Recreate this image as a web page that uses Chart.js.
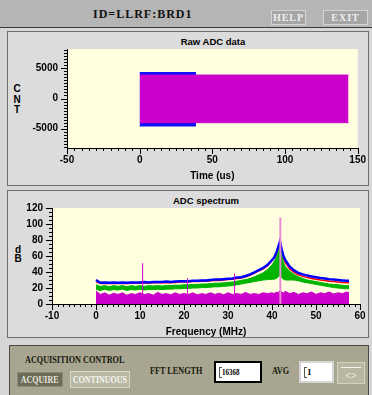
<!DOCTYPE html>
<html lang="en">
<head>
<meta charset="UTF-8">
<title>ID=LLRF:BRD1</title>
<script src="https://cdn.jsdelivr.net/npm/chart.js"></script>
<style>
  * { margin: 0; padding: 0; box-sizing: border-box; }
  body { width: 372px; height: 395px; overflow: hidden; position: relative; background: #d6d6d6; font-family: 'Liberation Sans', sans-serif; }
  .abs { position: absolute; }
  .ser { font-family: 'Liberation Serif', serif; font-weight: bold; white-space: nowrap; }
  .squeeze { display: inline-block; transform: scaleX(0.78); transform-origin: left center; }
  #topbar { left: 0; top: 0; width: 372px; height: 28px; background: #b5b5b5; border-bottom: 1px solid #3a3a3a; }
  #idtxt { left: 93px; top: 7px; font-size: 12px; letter-spacing: 1px; color: #111; }
  .tbtn { top: 10px; height: 15px; background: #a6a6a6; border: 1px solid #d4d4d4; color: #efefef; font-size: 10px; letter-spacing: 1px; display: flex; align-items: center; justify-content: center; }
  .panel { left: 7px; width: 362px; background: #dcdcdc; border: 1px solid #6e6e6e; }
  .ptitle { font-weight: bold; font-size: 9.5px; text-align: center; line-height: 12px; color: #000; }
  .vlab { font-weight: bold; font-size: 10px; text-align: center; color: #000; width: 10px; }
  canvas { position: absolute; left: 0; }
  #ctrl { left: 9px; top: 345px; width: 360px; height: 52px; background: #a8a690; border-top: 1px solid #4a4a40; border-left: 1px solid #4a4a40; border-right: 1px solid #4a4a40; }
  .ctxt { font-size: 10.5px; color: #16160e; }
  .cbtn { display: flex; align-items: center; justify-content: center; font-size: 10px; }
  .sq { display: inline-block; transform: scaleX(0.8); transform-origin: center; }
  .box { background: #fff; font-size: 9px; color: #000; }
  .cursor { position: absolute; left: 3px; top: 4px; width: 3px; height: 11px; border: 1px solid #555; border-right: none; }
</style>
</head>
<body>
  <div id="topbar" class="abs"></div>
  <div id="idtxt" class="abs ser">ID=LLRF:BRD1</div>
  <div class="abs tbtn ser" style="left:271px;width:35px;">HELP</div>
  <div class="abs tbtn ser" style="left:323px;width:45px;">EXIT</div>

  <div class="abs panel" style="top:31px;height:155px;"></div>
  <div class="abs panel" style="top:190px;height:148px;"></div>

  <div class="abs ptitle" style="left:67px;width:292px;top:36px;">Raw ADC data</div>
  <div class="abs ptitle" style="left:52px;width:308px;top:195px;">ADC spectrum</div>
  <div class="abs vlab" style="left:12px;top:84px;line-height:10.5px;">C<br>N<br>T</div>
  <div class="abs vlab" style="left:13px;top:245px;line-height:9px;">d<br>B</div>

  <canvas id="raw" width="372" height="155" style="top:31px"></canvas>
  <canvas id="spec" width="372" height="148" style="top:190px"></canvas>

  <div id="ctrl" class="abs"></div>
  <div class="abs ser ctxt" style="left:25px;top:354px;"><span class="squeeze">ACQUISITION CONTROL</span></div>
  <div class="abs ser cbtn" style="left:17px;top:372px;width:46px;height:15px;background:#6d6c5a;border:1px solid #8c8a76;color:#e6e6dc;"><span class="sq">ACQUIRE</span></div>
  <div class="abs ser cbtn" style="left:70px;top:371px;width:60px;height:17px;background:#bab8a3;border:1px solid #d8d6c4;color:#f6f6f2;"><span class="sq">CONTINUOUS</span></div>
  <div class="abs ser ctxt" style="left:150px;top:365px;"><span class="squeeze">FFT LENGTH</span></div>
  <div class="abs ser box" style="left:214px;top:361px;width:48px;height:22px;border:2px solid #000;">
    <div class="cursor"></div><div class="abs" style="left:6px;top:4px;"><span class="squeeze">16368</span></div>
  </div>
  <div class="abs ser ctxt" style="left:272px;top:365px;"><span class="squeeze">AVG</span></div>
  <div class="abs ser box" style="left:299px;top:361px;width:35px;height:22px;border:2px solid #d6d6d6;">
    <div class="cursor"></div><div class="abs" style="left:6px;top:4px;">1</div>
  </div>
  <div class="abs ser cbtn" style="left:337px;top:362px;width:28px;height:22px;background:#b9b7a2;border:1px solid #d4d2c0;color:#f4f4f0;padding-top:4px;">&lt;&gt;</div>
  <div class="abs" style="left:341px;top:367px;width:20px;height:1px;background:#f4f4f0;"></div>

<script>
// raw ADC trace envelopes (time in us, ADC counts)
const rawBlueTime = [0, 38.8];
const rawBlueHigh = [4300, 4300];
const rawBlueLow = [-4550, -4550];
const rawMagTime = [0, 143.7];
const rawMagHigh = [3880, 3880];
const rawMagLow = [-4000, -4000];
const rawXLabels = [-50, 0, 50, 100, 150];
const rawYLabels = [-5000, 0, 5000];

// spectrum traces (MHz, dB)
const freqMHz = [0, 1, 2, 3, 4, 5, 6, 7, 8, 9, 10, 11, 12, 13, 14, 15, 16, 17, 18, 19, 20,
  21, 22, 23, 24, 25, 26, 27, 28, 29, 30, 31, 32, 33, 34, 35, 36, 37, 38, 39, 40,
  40.5, 41, 41.4, 41.8, 42.2, 42.6, 43,
  44, 45, 46, 47, 48, 49, 50, 51, 52, 53, 54, 55, 56, 57, 57.5];
const blueDb = [30, 26.5, 27, 26.5, 27, 26.5, 27, 26.5, 27, 27, 27, 27.5, 27, 27.5, 27.5, 27.5, 28, 27.5, 28, 28.5, 28.5,
  28.5, 29, 29, 29.5, 29.5, 30, 30.5, 30.5, 31, 31.5, 32, 33, 33.5, 35, 37, 39.5, 42.5, 45, 49, 55,
  58, 64, 71, 78, 68, 60, 55,
  47, 42, 39, 37, 35.5, 34.5, 33.5, 32.5, 32, 31, 30.5, 30, 29.5, 29, 29];
const redDb = [28, 25.5, 26, 25.5, 26, 25.5, 26, 25.5, 26, 26, 26, 26.5, 26, 26.5, 26.5, 26.5, 27, 26.5, 27, 27.5, 27.5,
  27.5, 28, 28, 28.5, 28.5, 29, 29.5, 29.5, 30, 30.5, 31, 32, 32.5, 34, 36, 38.5, 41.5, 44, 48, 54,
  57, 62, 69, 75, 65, 57, 52,
  44, 39.5, 36.5, 34.5, 33, 32, 31, 30, 29.5, 28.5, 28, 27.5, 27, 26.5, 26.5];
const greenHiDb = [24, 22, 23, 21.5, 23, 22, 23, 21.5, 23, 22, 23, 22, 23, 22.5, 23, 22.5, 23, 23, 23.5, 23.5, 24,
  24, 24.5, 24.5, 25, 25, 25.5, 26, 26, 26.5, 27, 27.5, 28.5, 29.5, 30.5, 32, 34, 36.5, 39, 43, 49,
  53, 58, 64, 70, 60, 52, 47,
  41, 37, 34, 32, 30, 29, 28, 27, 26, 25, 24.5, 24, 23.5, 23, 23];
const greenLoDb = [18, 17, 18.5, 17, 18, 17.5, 18.5, 17, 18, 17.5, 18.5, 17.5, 18, 18, 18.5, 18, 18.5, 18.5, 19, 19, 19.5,
  19.5, 20, 20, 20.5, 20.5, 21, 21.5, 21.5, 22, 22.5, 23, 24, 25, 26, 27, 28, 29, 30, 30.5, 31,
  31, 32, 34, 36, 33, 31, 30,
  30, 30, 29, 27.5, 26.5, 25.5, 24.5, 23.5, 22.5, 21.5, 20.5, 20, 19.5, 19, 19];
const floorDb = [16, 12, 14, 11, 13.5, 12, 14, 11, 13, 12, 14, 12, 13, 11, 14.5, 12, 13, 11.5, 14, 12, 13,
  12, 14, 11.5, 13, 12, 14, 12, 13.5, 11.5, 14, 12, 13, 12, 14.5, 12, 13, 12, 14, 13, 14,
  13, 15, 14, 17, 15, 13.5, 16,
  13, 14.5, 12, 14, 13, 15, 12, 14, 13, 15, 12.5, 14, 13, 15, 14];
const spurFreq = [10.6, 20.8, 31.5];
const spurDb = [51, 32.5, 38];
const carrierFreq = 41.9;
const carrierDb = 108;
const specXLabels = [-10, 0, 10, 20, 30, 40, 50, 60];
const specYLabels = [0, 20, 40, 60, 80, 100, 120];

const pts = (xs, ys) => xs.map((x, i) => ({ x: x, y: ys[i] }));
const tickFont = { family: 'Liberation Sans', weight: 'bold', size: 10 };

const plotBg = {
  id: 'plotBg',
  beforeDraw(chart) {
    const a = chart.chartArea, ctx = chart.ctx;
    ctx.save();
    ctx.fillStyle = '#ffffe0';
    ctx.fillRect(a.left, a.top, a.right - a.left, a.bottom - a.top);
    ctx.restore();
  }
};

// outside tick marks, long ones where a label is shown
const tickMarks = {
  id: 'tickMarks',
  afterDraw(chart) {
    const ctx = chart.ctx, xs = chart.scales.x, ys = chart.scales.y;
    const a = chart.chartArea;
    ctx.save();
    ctx.strokeStyle = '#000';
    ctx.lineWidth = 1;
    ctx.beginPath();
    xs.ticks.forEach(t => {
      const p = Math.round(xs.getPixelForValue(t.value)) + 0.5;
      ctx.moveTo(p, a.bottom);
      ctx.lineTo(p, a.bottom + (t.label ? 6 : 3));
    });
    ys.ticks.forEach(t => {
      const p = Math.round(ys.getPixelForValue(t.value)) + 0.5;
      ctx.moveTo(a.left, p);
      ctx.lineTo(a.left - (t.label ? 6 : 3), p);
    });
    ctx.stroke();
    ctx.restore();
  }
};

function axis(min, max, step, labels, pad, size, title, titlePad) {
  const horizontal = !!title;
  return {
    type: 'linear', min: min, max: max,
    ticks: {
      autoSkip: false, maxRotation: 0,
      padding: pad, color: '#000', font: tickFont,
      callback: v => labels.includes(v) ? String(v) : ''
    },
    // minor ticks every step, inside [min, max]
    afterBuildTicks: s => {
      const out = [];
      for (let v = Math.ceil(min / step - 1e-9) * step; v <= max + 1e-9; v += step) {
        out.push({ value: Math.round(v * 1000) / 1000 });
      }
      s.ticks = out;
    },
    grid: { display: false, drawTicks: false },
    border: { display: true, color: '#000', width: 1 },
    title: title ? { display: true, text: title, color: '#000', font: tickFont, padding: { top: 0, bottom: titlePad } } : { display: false },
    afterFit: s => { if (horizontal) s.height = size; else s.width = size; }
  };
}

function baseOptions(xAxis, yAxis, top, right) {
  return {
    responsive: false, animation: false, events: [],
    layout: { padding: { left: 0, top: top, right: right, bottom: 0 } },
    elements: { point: { radius: 0 }, line: { tension: 0 } },
    plugins: { legend: { display: false }, tooltip: { enabled: false }, title: { display: false } },
    scales: { x: xAxis, y: yAxis }
  };
}

new Chart(document.getElementById('raw'), {
  type: 'line',
  data: {
    datasets: [
      { data: pts(rawMagTime, rawMagHigh), backgroundColor: '#cc00cc', borderColor: '#cc00cc', borderWidth: 1, fill: '+1' },
      { data: pts(rawMagTime, rawMagLow), borderColor: '#cc00cc', borderWidth: 1, fill: false },
      { data: pts(rawBlueTime, rawBlueHigh), backgroundColor: '#1010ff', borderColor: '#1010ff', borderWidth: 1, fill: '+1' },
      { data: pts(rawBlueTime, rawBlueLow), borderColor: '#1010ff', borderWidth: 1, fill: false }
    ]
  },
  options: baseOptions(
    axis(-50, 150, 5, rawXLabels, 6, 38, 'Time (us)', 4),
    axis(-8192, 8192, 500, rawYLabels, 9, 67),
    18, 13),
  plugins: [plotBg, tickMarks]
});

new Chart(document.getElementById('spec'), {
  type: 'line',
  data: {
    datasets: [
      { data: [{ x: carrierFreq, y: 0 }, { x: carrierFreq, y: carrierDb }], borderColor: '#e88ad4', borderWidth: 2 },
      ...spurFreq.map((f, i) => ({ data: [{ x: f, y: 0 }, { x: f, y: spurDb[i] }], borderColor: '#cc00cc', borderWidth: 1 })),
      { data: pts(freqMHz, floorDb), borderColor: '#cc00cc', backgroundColor: '#cc00cc', borderWidth: 1, fill: 'origin' },
      { data: pts(freqMHz, greenHiDb), borderColor: '#00b400', backgroundColor: '#00b400', borderWidth: 1, fill: '+1' },
      { data: pts(freqMHz, greenLoDb), borderColor: '#00b400', borderWidth: 1, fill: false },
      { data: pts(freqMHz, blueDb), borderColor: '#0000ff', borderWidth: 2.5 },
      { data: pts(freqMHz, redDb), borderColor: '#ff0000', borderWidth: 1.5 }
    ]
  },
  options: baseOptions(
    axis(-10, 60, 1.25, specXLabels, 6, 34, 'Frequency (MHz)', 0),
    axis(0, 120, 5, specYLabels, 9, 52),
    18, 12),
  plugins: [plotBg, tickMarks]
});
</script>
</body>
</html>
